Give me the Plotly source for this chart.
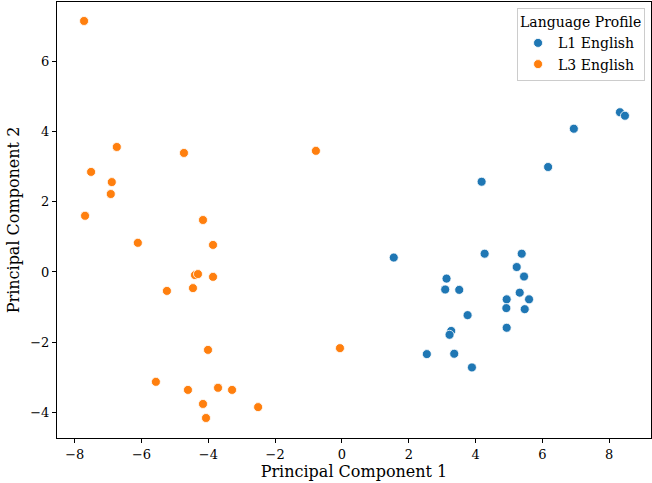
import plotly.graph_objects as go

# L1 English (blue)
l1_pc1 = [8.32, 8.47, 6.94, 6.17, 4.18, 1.55, 4.27, 5.38, 5.23, 5.45, 3.13, 3.09, 3.51,
          5.32, 4.93, 5.60, 4.92, 5.47, 3.76, 4.93, 3.27, 3.22, 2.54, 3.36, 3.89]
l1_pc2 = [4.55, 4.45, 4.08, 2.99, 2.57, 0.41, 0.52, 0.52, 0.14, -0.13, -0.19, -0.50, -0.51,
          -0.59, -0.78, -0.78, -1.03, -1.06, -1.23, -1.59, -1.68, -1.79, -2.34, -2.33, -2.72]

# L3 English (orange)
l3_pc1 = [-7.72, -6.74, -4.73, -0.78, -7.51, -6.89, -6.92, -7.69, -4.16, -3.86, -6.11,
          -4.40, -4.31, -3.86, -5.24, -4.46, -0.06, -4.01, -5.57, -4.61, -3.71, -3.29,
          -4.16, -2.51, -4.07]
l3_pc2 = [7.15, 3.56, 3.39, 3.45, 2.85, 2.56, 2.22, 1.60, 1.48, 0.77, 0.83,
          -0.09, -0.06, -0.14, -0.54, -0.46, -2.17, -2.22, -3.13, -3.36, -3.30, -3.36,
          -3.76, -3.85, -4.16]

series = [("L1 English", l1_pc1, l1_pc2, "#1f77b4"),
          ("L3 English", l3_pc1, l3_pc2, "#ff7f0e")]

FONT = "DejaVu Serif"
fig = go.Figure()
for name, xs, ys, col in series:
    fig.add_trace(go.Scatter(
        x=xs, y=ys, mode="markers", name=name,
        marker=dict(color=col, size=9, line=dict(color="white", width=0.8)),
    ))

axis_common = dict(
    showline=True, linecolor="black", linewidth=1, mirror=True,
    ticks="outside", ticklen=4, tickcolor="black", tickwidth=1,
    showgrid=False, zeroline=False,
    tickfont=dict(family=FONT, size=13, color="black"),
)
fig.update_xaxes(range=[-8.53, 9.25], dtick=2, tick0=0,
                 title=dict(text="Principal Component 1", font=dict(family=FONT, size=16, color="black"), standoff=4),
                 **axis_common)
fig.update_yaxes(range=[-4.73, 7.69], dtick=2, tick0=0,
                 title=dict(text="Principal Component 2", font=dict(family=FONT, size=16, color="black"), standoff=6),
                 **axis_common)

fig.update_layout(
    width=652, height=483,
    margin=dict(l=57, r=1, t=2, b=45),
    plot_bgcolor="white", paper_bgcolor="white",
    font=dict(family=FONT, size=13, color="black"),
    legend=dict(
        title=dict(text="Language Profile", font=dict(family=FONT, size=14), side="top"),
        x=0.99, y=0.986, xanchor="right", yanchor="top",
        bgcolor="rgba(255,255,255,0.8)", bordercolor="#cccccc", borderwidth=1,
        font=dict(family=FONT, size=14),
    ),
)

fig.write_html("out.html")
